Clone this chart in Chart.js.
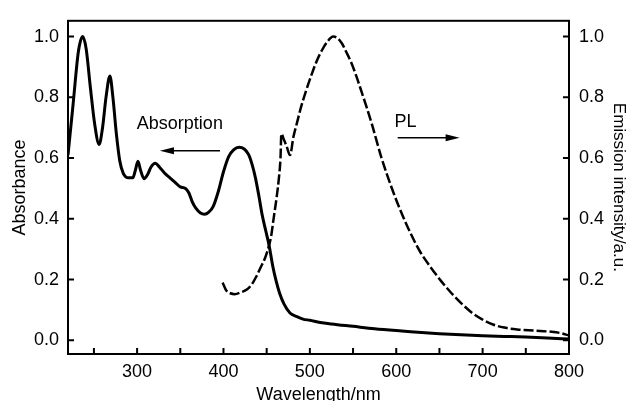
<!DOCTYPE html>
<html>
<head>
<meta charset="utf-8">
<script src="https://cdn.jsdelivr.net/npm/chart.js@4/dist/chart.umd.min.js"></script>
<style>
  html, body { margin: 0; padding: 0; background: #fff; }
  #wrap { width: 631px; height: 401px; }
</style>
</head>
<body>
<div id="wrap"><canvas id="chart" width="631" height="401"></canvas></div>
<script>
'use strict';

// absorption spectrum (left axis)
const absWl = [220, 226, 232, 237, 241, 246, 251, 256, 260, 264, 268.5, 272, 276, 280, 284, 290, 295, 298, 301, 304, 308, 312, 316, 321, 326, 332, 338, 344, 350, 356, 360, 364, 368, 373, 378, 383, 388, 394, 400, 406, 412, 418, 424, 429, 433, 437, 441, 445, 449, 453, 457, 461, 465, 470, 477, 485, 492, 500, 512, 525, 550, 575, 600, 625, 650, 675, 700, 725, 750, 775, 800];
const absVal = [0.61, 0.78, 0.95, 1.0, 0.96, 0.83, 0.71, 0.645, 0.70, 0.80, 0.87, 0.80, 0.68, 0.59, 0.55, 0.535, 0.535, 0.56, 0.59, 0.56, 0.532, 0.545, 0.57, 0.583, 0.57, 0.55, 0.535, 0.52, 0.505, 0.50, 0.485, 0.455, 0.435, 0.42, 0.415, 0.422, 0.44, 0.49, 0.555, 0.605, 0.628, 0.636, 0.63, 0.612, 0.58, 0.535, 0.475, 0.41, 0.36, 0.31, 0.245, 0.195, 0.155, 0.12, 0.09, 0.078, 0.07, 0.066, 0.059, 0.054, 0.046, 0.038, 0.032, 0.027, 0.022, 0.018, 0.015, 0.013, 0.011, 0.008, 0.004];

// PL spectrum (right axis)
const plWl = [399, 403, 408, 413, 420, 427, 433, 438, 443, 448, 452, 455, 458, 461.5, 464, 466, 467, 470, 473, 477, 481, 485, 490, 496, 502, 508, 514, 520, 527, 532, 537, 542, 548, 554, 560, 566, 572, 583, 595, 606, 617, 628, 640, 652, 664, 676, 688, 700, 712, 725, 740, 760, 780, 790, 800];
const plVal = [0.19, 0.165, 0.155, 0.152, 0.158, 0.167, 0.185, 0.21, 0.24, 0.27, 0.305, 0.34, 0.40, 0.47, 0.53, 0.60, 0.68, 0.66, 0.64, 0.61, 0.67, 0.715, 0.77, 0.825, 0.875, 0.92, 0.955, 0.982, 1.0, 0.995, 0.978, 0.95, 0.914, 0.868, 0.817, 0.765, 0.71, 0.60, 0.50, 0.42, 0.35, 0.29, 0.24, 0.195, 0.155, 0.12, 0.09, 0.068, 0.052, 0.042, 0.036, 0.032, 0.028, 0.024, 0.016];

const xTicks = [250, 300, 350, 400, 450, 500, 550, 600, 650, 700, 750, 800];
const yTicks = [0, 0.2, 0.4, 0.6, 0.8, 1.0];

const FONT = 'Liberation Sans, Arial, Helvetica, sans-serif';

// annotations in data units: text + arrow
const notes = [
  { text: 'Absorption', x: 349.5, y: 0.711, from: [396, 0.624], to: [326.4, 0.624] },
  { text: 'PL', x: 610.7, y: 0.718, from: [601.7, 0.667], to: [673.4, 0.667] }
];

const frame = {
  id: 'frame',
  afterDatasetsDraw(chart) {
    const { ctx, chartArea: a, scales } = chart;
    ctx.save();
    ctx.strokeStyle = '#000';
    ctx.lineWidth = 2;
    ctx.beginPath();
    // inward ticks
    xTicks.forEach(v => {
      const px = scales.x.getPixelForValue(v);
      ctx.moveTo(px, a.bottom);
      ctx.lineTo(px, a.bottom - 6);
    });
    yTicks.forEach(v => {
      const py = scales.y.getPixelForValue(v);
      ctx.moveTo(a.left, py);
      ctx.lineTo(a.left + 6, py);
      const py2 = scales.y2.getPixelForValue(v);
      ctx.moveTo(a.right, py2);
      ctx.lineTo(a.right - 6, py2);
    });
    ctx.stroke();
    ctx.strokeRect(a.left, a.top, a.right - a.left, a.bottom - a.top);

    // labels and arrows
    ctx.fillStyle = '#000';
    ctx.font = '18px ' + FONT;
    ctx.textAlign = 'center';
    ctx.textBaseline = 'middle';
    notes.forEach(n => {
      ctx.fillText(n.text, scales.x.getPixelForValue(n.x), scales.y.getPixelForValue(n.y));
      const x0 = scales.x.getPixelForValue(n.from[0]);
      const x1 = scales.x.getPixelForValue(n.to[0]);
      const yy = scales.y.getPixelForValue(n.from[1]);
      const dir = Math.sign(x1 - x0);
      ctx.lineWidth = 1.6;
      ctx.beginPath();
      ctx.moveTo(x0, yy);
      ctx.lineTo(x1 - dir * 10, yy);
      ctx.stroke();
      ctx.beginPath();
      ctx.moveTo(x1, yy);
      ctx.lineTo(x1 - dir * 14, yy - 3.5);
      ctx.lineTo(x1 - dir * 14, yy + 3.5);
      ctx.closePath();
      ctx.fill();
    });
    ctx.restore();
  }
};

const ctxEl = document.getElementById('chart');

new Chart(ctxEl, {
  type: 'line',
  data: {
    datasets: [{
      label: 'Absorption',
      data: absWl.map((w, i) => ({ x: w, y: absVal[i] })),
      yAxisID: 'y',
      borderColor: '#000',
      borderWidth: 3,
      pointRadius: 0,
      cubicInterpolationMode: 'monotone'
    }, {
      label: 'PL',
      data: plWl.map((w, i) => ({ x: w, y: plVal[i] })),
      yAxisID: 'y2',
      borderColor: '#000',
      borderWidth: 2.5,
      borderDash: [10, 3],
      pointRadius: 0,
      cubicInterpolationMode: 'monotone'
    }]
  },
  options: {
    responsive: false,
    animation: false,
    events: [],
    layout: { padding: { top: 14, left: 0, right: 0, bottom: 0 } },
    plugins: { legend: { display: false }, tooltip: { enabled: false } },
    scales: {
      x: {
        type: 'linear',
        min: 220,
        max: 800,
        afterBuildTicks: s => { s.ticks = xTicks.map(v => ({ value: v })); },
        afterFit: s => { s.height = 47; },
        grid: { display: false, drawTicks: false },
        border: { display: false },
        ticks: {
          autoSkip: false,
          maxRotation: 0,
          padding: 7,
          color: '#000',
          font: { family: FONT, size: 18 },
          callback: v => (v % 100 === 0 ? String(v) : '')
        },
        title: {
          display: true,
          text: 'Wavelength/nm',
          color: '#000',
          font: { family: FONT, size: 18, lineHeight: 1 },
          padding: { top: 0, bottom: -3 }
        }
      },
      y: {
        position: 'left',
        min: -0.045,
        max: 1.052,
        afterBuildTicks: s => { s.ticks = yTicks.map(v => ({ value: v })); },
        afterFit: s => { s.width = 68; },
        grid: { display: false, drawTicks: false },
        border: { display: false },
        ticks: {
          padding: 9,
          color: '#000',
          font: { family: FONT, size: 18 },
          callback: v => v.toFixed(1)
        },
        title: {
          display: true,
          text: 'Absorbance',
          color: '#000',
          font: { family: FONT, size: 18, lineHeight: 1 },
          padding: { top: 11, bottom: 0 }
        }
      },
      y2: {
        position: 'right',
        min: -0.045,
        max: 1.052,
        afterBuildTicks: s => { s.ticks = yTicks.map(v => ({ value: v })); },
        afterFit: s => { s.width = 62; },
        grid: { display: false, drawTicks: false },
        border: { display: false },
        ticks: {
          padding: 10,
          color: '#000',
          font: { family: FONT, size: 18 },
          callback: v => v.toFixed(1)
        },
        title: {
          display: true,
          text: 'Emission intensity/a.u.',
          color: '#000',
          font: { family: FONT, size: 17, lineHeight: 1 },
          padding: { top: 4, bottom: 0 }
        }
      }
    }
  },
  plugins: [frame]
});
</script>
</body>
</html>
